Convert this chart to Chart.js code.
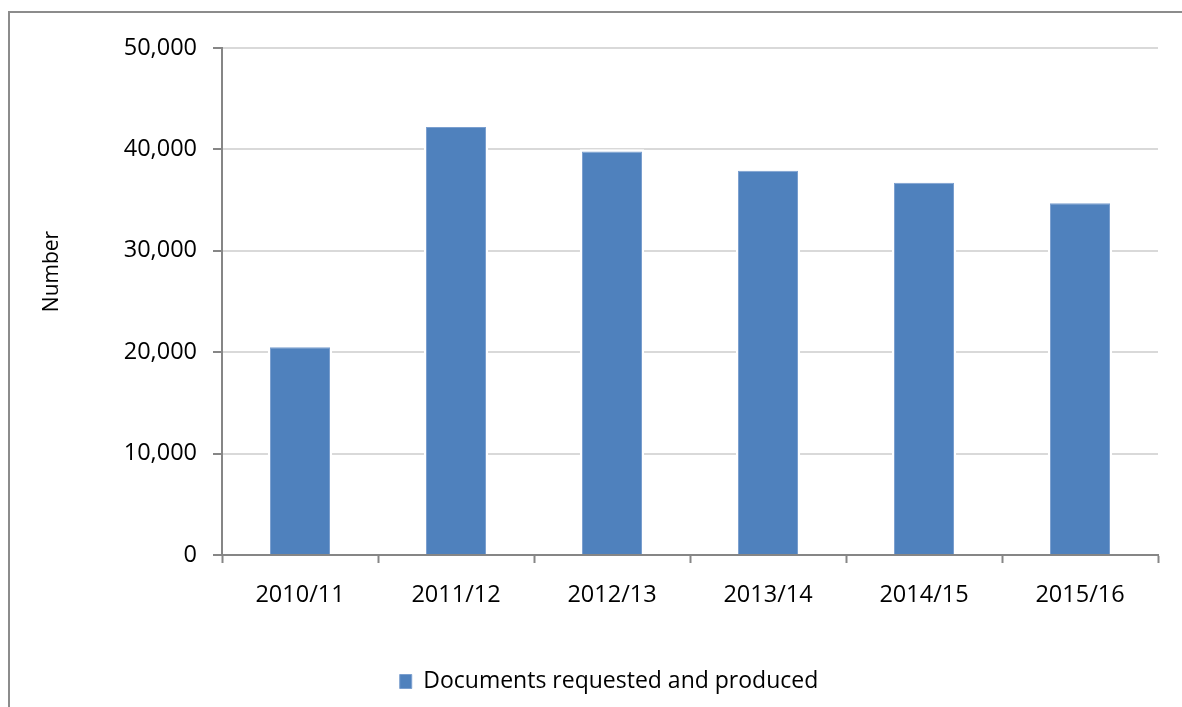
<!DOCTYPE html>
<html>
<head>
<meta charset="utf-8">
<script src="https://cdn.jsdelivr.net/npm/chart.js@4/dist/chart.umd.min.js"></script>
<style>
  html, body { margin: 0; padding: 0; background: #fff; }
  #wrap { width: 1182px; height: 707px; position: relative; }
</style>
</head>
<body>
<div id="wrap"><canvas id="c" width="1182" height="707"></canvas></div>
<script>
const categories = ['2010/11', '2011/12', '2012/13', '2013/14', '2014/15', '2015/16'];
const documentsValues = [20500, 42200, 39800, 37900, 36700, 34700];
const seriesLabel = 'Documents requested and produced';
const yTicks = [0, 10000, 20000, 30000, 40000, 50000];
const yTitle = 'Number';

const frame = {
  id: 'frame',
  afterLayout(chart) {
    const lg = chart.legend;
    if (lg) { lg.left += 12; lg.right += 12; lg.top += 4; lg.bottom += 4; }
  },
  beforeDraw(chart) {
    const ctx = chart.ctx;
    ctx.save();
    ctx.fillStyle = '#fff';
    ctx.fillRect(0, 0, chart.width, chart.height);
    ctx.strokeStyle = '#8c8c8c';
    ctx.lineWidth = 2;
    ctx.beginPath();
    ctx.moveTo(9, chart.height);
    ctx.lineTo(9, 12);
    ctx.lineTo(chart.width, 12);
    ctx.stroke();
    ctx.restore();
  },
  beforeDatasetsDraw(chart) {
    const ctx = chart.ctx;
    ctx.save();
    ctx.fillStyle = '#fff';
    chart.getDatasetMeta(0).data.forEach(bar => {
      const p = bar.getProps(['x', 'y', 'base', 'width'], true);
      ctx.fillRect(p.x - p.width / 2 - 2, p.y - 2, p.width + 4, p.base - p.y + 1);
    });
    ctx.restore();
  },
  afterDraw(chart) {
    const ctx = chart.ctx;
    const area = chart.chartArea;
    ctx.save();
    ctx.translate(52, (area.top + area.bottom) / 2 - 30);
    ctx.rotate(-Math.PI / 2);
    ctx.fillStyle = '#000';
    ctx.font = '21px "Open Sans"';
    ctx.textAlign = 'center';
    ctx.textBaseline = 'middle';
    ctx.fillText(yTitle, 0, 0);
    ctx.restore();
  }
};

new Chart(document.getElementById('c'), {
  type: 'bar',
  data: {
    labels: categories,
    datasets: [{
      label: seriesLabel,
      data: documentsValues,
      backgroundColor: '#4f81bd',
      borderColor: '#7b9fcf',
      borderWidth: 1,
      categoryPercentage: 1,
      barPercentage: 0.385
    }]
  },
  options: {
    responsive: false,
    animation: false,
    devicePixelRatio: 1,
    layout: { padding: { left: 36, top: 48, right: 24, bottom: 8 } },
    plugins: {
      tooltip: { enabled: false },
      legend: {
        position: 'bottom',
        labels: {
          color: '#000',
          font: { family: 'Open Sans', size: 23 },
          boxWidth: 12,
          boxHeight: 14,
          padding: 10
        }
      }
    },
    scales: {
      x: {
        afterFit(scale) { scale.height = 101; },
        grid: {
          offset: true,
          drawOnChartArea: false,
          drawTicks: true,
          tickLength: 8,
          tickColor: '#868686',
          tickWidth: 2
        },
        border: { color: '#868686', width: 2 },
        ticks: {
          color: '#000',
          font: { family: 'Open Sans', size: 23.5 },
          padding: 18,
          maxRotation: 0
        }
      },
      y: {
        min: 0,
        max: 50000,
        afterFit(scale) { scale.width = 186; },
        afterBuildTicks(scale) { scale.ticks = yTicks.map(v => ({ value: v })); },
        grid: {
          color: '#d9d9d9',
          lineWidth: 2,
          tickLength: 9,
          tickColor: '#868686',
          tickWidth: 2
        },
        border: { color: '#868686', width: 2 },
        ticks: {
          color: '#000',
          font: { family: 'Open Sans', size: 23.5 },
          padding: 16,
          callback: v => v.toLocaleString('en-US')
        }
      }
    }
  },
  plugins: [frame]
});
</script>
</body>
</html>
